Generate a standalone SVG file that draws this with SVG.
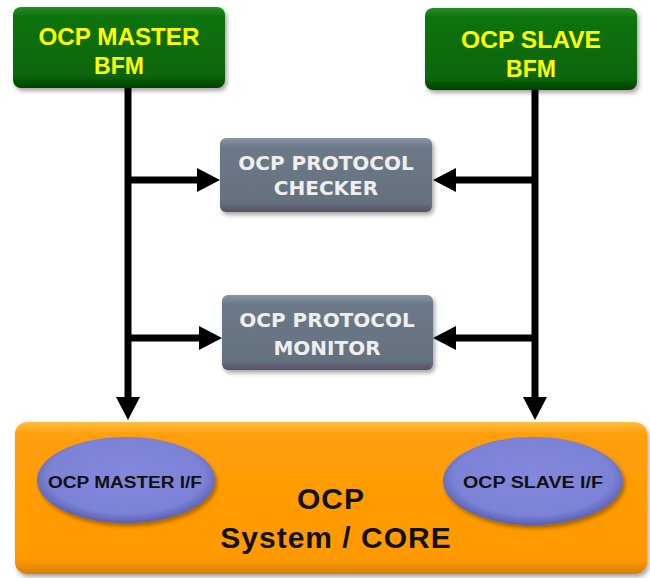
<svg xmlns="http://www.w3.org/2000/svg" width="650" height="578" viewBox="0 0 650 578">
<defs>
<linearGradient id="gGreen" x1="0" y1="0" x2="0" y2="1">
<stop offset="0" stop-color="#2a8a2a"/>
<stop offset="0.12" stop-color="#0b740b"/>
<stop offset="0.85" stop-color="#086608"/>
<stop offset="1" stop-color="#034003"/>
</linearGradient>
<linearGradient id="gGray" x1="0" y1="0" x2="0" y2="1">
<stop offset="0" stop-color="#8a96a4"/>
<stop offset="0.12" stop-color="#6c7988"/>
<stop offset="0.88" stop-color="#65717f"/>
<stop offset="1" stop-color="#5a4f66"/>
</linearGradient>
<linearGradient id="gOrange" x1="0" y1="0" x2="0" y2="1">
<stop offset="0" stop-color="#ffbf40"/>
<stop offset="0.08" stop-color="#ff9f0a"/>
<stop offset="0.9" stop-color="#ff9900"/>
<stop offset="1" stop-color="#d97f00"/>
</linearGradient>
<radialGradient id="gBlue" cx="0.5" cy="0.45" r="0.55">
<stop offset="0" stop-color="#8388dc"/>
<stop offset="0.8" stop-color="#7c82d6"/>
<stop offset="1" stop-color="#5a5fb0"/>
</radialGradient>
<filter id="sh" x="-10%" y="-10%" width="125%" height="130%">
<feDropShadow dx="2" dy="3" stdDeviation="2" flood-color="#000" flood-opacity="0.35"/>
</filter>
<marker id="ah" markerUnits="userSpaceOnUse" markerWidth="24" markerHeight="24" refX="0" refY="12" orient="auto">
<path d="M0,0 L23,12 L0,24 z" fill="#000"/>
</marker>
<style>
.bfm{fill:url(#gGreen);filter:url(#sh)}
.bfmt{font-family:"Liberation Sans",Arial,sans-serif;font-weight:bold;font-size:23px;fill:#ffff00;text-anchor:middle}
.chk{fill:url(#gGray);filter:url(#sh)}
.chkt{font-family:"DejaVu Sans",Verdana,sans-serif;font-weight:bold;font-size:20px;fill:#eeeeee;text-anchor:middle}
.ifc{fill:url(#gBlue);filter:url(#sh)}
.ifct{font-family:"Liberation Sans",Arial,sans-serif;font-weight:bold;font-size:16px;fill:#111111;text-anchor:middle}
.core{fill:url(#gOrange);filter:url(#sh)}
.coret{font-family:"Liberation Sans",Arial,sans-serif;font-weight:bold;font-size:30px;fill:#111111;text-anchor:middle;letter-spacing:1px}
.cn{stroke:#000;stroke-width:7;fill:none;marker-end:url(#ah)}
</style>
</defs>
<rect width="650" height="578" fill="#ffffff"/>

<g id="core">
<rect class="core" x="15" y="422" width="632" height="152" rx="12"/>
<text class="coret" x="331" y="509">OCP</text>
<text class="coret" x="336" y="548">System / CORE</text>
</g>

<g id="master-if">
<ellipse class="ifc" cx="126" cy="480" rx="89" ry="43"/>
<text class="ifct" x="125" y="488" textLength="154" lengthAdjust="spacingAndGlyphs">OCP MASTER I/F</text>
</g>

<g id="slave-if">
<ellipse class="ifc" cx="533" cy="481" rx="90" ry="44"/>
<text class="ifct" x="533" y="488" textLength="140" lengthAdjust="spacingAndGlyphs">OCP SLAVE I/F</text>
</g>

<g id="master-bfm">
<rect class="bfm" x="13" y="7" width="212" height="81" rx="8"/>
<text class="bfmt" x="119" y="45" textLength="161" lengthAdjust="spacingAndGlyphs">OCP MASTER</text>
<text class="bfmt" x="119" y="74">BFM</text>
</g>

<g id="slave-bfm">
<rect class="bfm" x="425" y="8" width="212" height="82" rx="8"/>
<text class="bfmt" x="531" y="48" textLength="140" lengthAdjust="spacingAndGlyphs">OCP SLAVE</text>
<text class="bfmt" x="531" y="77">BFM</text>
</g>

<g id="checker">
<rect class="chk" x="220" y="138" width="212" height="74" rx="6"/>
<text class="chkt" x="326" y="170">OCP PROTOCOL</text>
<text class="chkt" x="326" y="195">CHECKER</text>
</g>

<g id="monitor">
<rect class="chk" x="222" y="295" width="211" height="75" rx="6"/>
<text class="chkt" x="327" y="327">OCP PROTOCOL</text>
<text class="chkt" x="327" y="355">MONITOR</text>
</g>

<g id="connectors">
<path class="cn" d="M128,88 V397"/>
<path class="cn" d="M535,90 V397"/>
<path class="cn" d="M128,180 H197"/>
<path class="cn" d="M535,180 H456"/>
<path class="cn" d="M128,338 H199"/>
<path class="cn" d="M535,338 H456"/>
</g>
</svg>
